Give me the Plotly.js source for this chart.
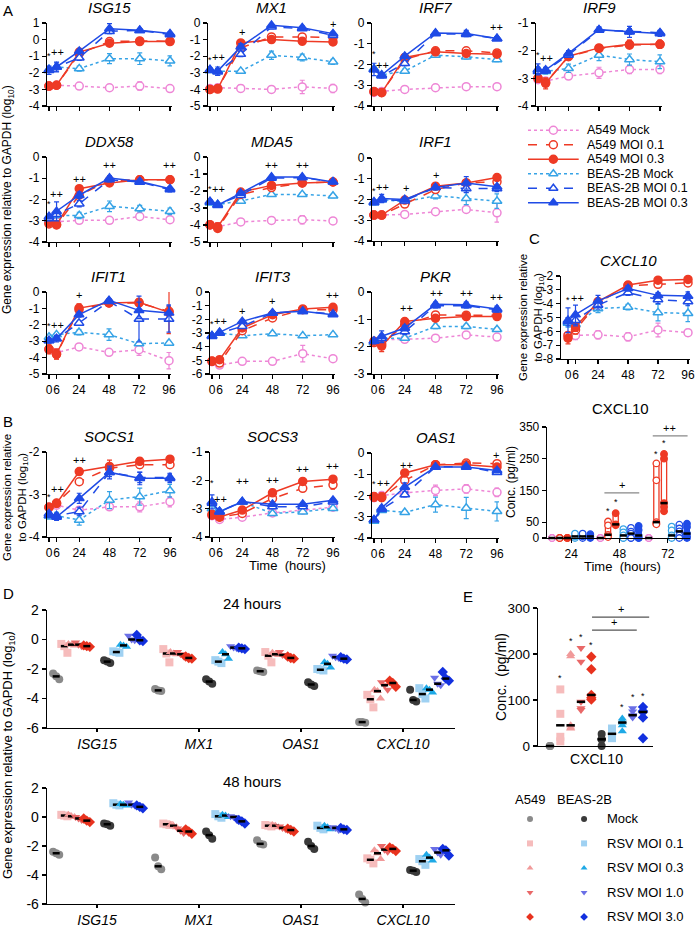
<!DOCTYPE html>
<html><head><meta charset="utf-8">
<script src="https://cdn.plot.ly/plotly-3.0.1.min.js"></script>
<style>html,body{margin:0;padding:0;background:#fff}#chart{width:697px;height:928px}</style>
</head><body><div id="chart"></div>
<script>
// ---------------- DATA ----------------
const times = [0, 6, 24, 48, 72, 96];
const timeLabels = ['0', '6', '24', '48', '72', '96'];
const seriesNames = ['A549 Mock', 'A549 MOI 0.1', 'A549 MOI 0.3', 'BEAS-2B Mock', 'BEAS-2B MOI 0.1', 'BEAS-2B MOI 0.3'];

// rows: A549 Mock, A549 MOI0.1, A549 MOI0.3, BEAS Mock, BEAS MOI0.1, BEAS MOI0.3 ; cols: times
const ISG15 = [[-2.8,-2.75,-2.8,-2.9,-2.8,-2.95],[-2.8,-2.75,-0.85,-0.12,-0.08,-0.1],[-2.8,-2.75,-0.75,-0.22,-0.12,-0.12],[-1.8,-1.65,-1.75,-1.15,-1.15,-1.28],[-1.8,-1.65,-1.1,0.5,0.55,0.3],[-1.85,-1.65,-0.7,0.66,0.56,0.36]];
const ISG15_err = [[0,0,0.1,0.1,0.25,0.1],[0,0,0.08,0.1,0.1,0.1],[0.05,0.05,0.1,0.1,0.15,0.1],[0.1,0.1,0.15,0.3,0.35,0.3],[0.15,0.25,0.15,0.1,0.1,0.1],[0.25,0.3,0.1,0.3,0.1,0.1]];
const MX1 = [[-3.95,-3.9,-3.94,-4.0,-3.85,-3.94],[-4.0,-3.95,-1.5,-0.84,-0.84,-0.88],[-4.0,-3.98,-1.2,-1.0,-1.1,-1.14],[-2.85,-2.9,-2.9,-1.94,-2.08,-2.34],[-2.85,-2.95,-1.88,-0.24,-0.34,-0.74],[-2.8,-2.9,-1.44,-0.14,-0.28,-0.64]];
const MX1_err = [[0.1,0.1,0.2,0.1,0.4,0.25],[0,0,0.1,0.1,0.15,0.1],[0.05,0.1,0.1,0.15,0.2,0.15],[0.1,0.15,0.1,0.25,0.2,0.15],[0.1,0.2,0.15,0.1,0.1,0.1],[0.1,0.25,0.2,0.1,0.1,0.1]];
const IRF7 = [[-3.35,-3.3,-3.2,-3.12,-3.07,-3.07],[-3.3,-3.35,-1.75,-1.34,-1.34,-1.44],[-3.31,-3.36,-1.66,-1.39,-1.47,-1.5],[-2.2,-2.5,-2.32,-1.55,-1.63,-1.76],[-2.25,-2.55,-1.95,-0.51,-0.55,-0.75],[-2.24,-2.51,-1.6,-0.48,-0.51,-0.75]];
const IRF7_err = [[0,0,0.05,0.05,0.05,0.05],[0.05,0.05,0.1,0.08,0.08,0.08],[0.05,0.05,0.1,0.08,0.1,0.1],[0.1,0.1,0.1,0.08,0.1,0.1],[0.1,0.1,0.1,0.08,0.1,0.08],[0.3,0.1,0.1,0.08,0.15,0.08]];
const IRF9 = [[-3.05,-3.1,-2.92,-2.8,-2.68,-2.68],[-3.0,-3.15,-2.22,-1.92,-1.8,-1.77],[-3.0,-3.18,-2.2,-1.9,-1.77,-1.77],[-2.7,-2.75,-2.64,-2.16,-2.32,-2.4],[-2.75,-2.72,-2.16,-1.26,-1.3,-1.35],[-2.68,-2.7,-2.1,-1.24,-1.32,-1.38]];
const IRF9_err = [[0.1,0.1,0.1,0.2,0.15,0.15],[0.1,0.1,0.08,0.08,0.1,0.1],[0.15,0.2,0.1,0.1,0.15,0.15],[0.1,0.1,0.15,0.2,0.2,0.25],[0.1,0.1,0.08,0.08,0.1,0.08],[0.2,0.1,0.1,0.1,0.2,0.1]];
const DDX58 = [[-3.1,-3.05,-2.98,-2.98,-2.8,-2.95],[-3.15,-3.2,-1.8,-1.1,-1.07,-1.07],[-3.1,-3.18,-1.49,-1.22,-1.07,-1.07],[-2.9,-2.75,-2.75,-2.32,-2.43,-2.56],[-2.9,-2.7,-2.2,-1.07,-1.18,-1.54],[-2.8,-2.56,-1.8,-0.99,-1.15,-1.49]];
const DDX58_err = [[0.1,0.1,0.1,0.1,0.1,0.1],[0.1,0.1,0.1,0.1,0.08,0.08],[0.1,0.15,0.1,0.1,0.1,0.1],[0.1,0.1,0.15,0.25,0.15,0.15],[0.1,0.1,0.15,0.1,0.1,0.1],[0.1,0.45,0.15,0.1,0.1,0.1]];
const MDA5 = [[-4.0,-4.1,-3.82,-3.73,-3.69,-3.76],[-4.0,-4.2,-2.2,-1.8,-1.53,-1.47],[-3.98,-4.12,-2.06,-1.67,-1.53,-1.47],[-2.7,-2.8,-2.59,-2.2,-2.2,-2.29],[-2.65,-2.8,-2.25,-1.24,-1.22,-1.45],[-2.61,-2.84,-2.12,-1.18,-1.18,-1.47]];
const MDA5_err = [[0.05,0.1,0.15,0.1,0.25,0.1],[0.05,0.1,0.1,0.1,0.1,0.1],[0.05,0.25,0.1,0.1,0.1,0.1],[0.1,0.1,0.1,0.1,0.1,0.1],[0.1,0.1,0.1,0.08,0.08,0.08],[0.1,0.1,0.1,0.08,0.08,0.08]];
const IRF1 = [[-2.75,-2.75,-2.72,-2.59,-2.48,-2.64],[-2.75,-2.75,-2.22,-1.52,-1.2,-1.15],[-2.75,-2.75,-2.03,-1.36,-1.2,-0.94],[-2.15,-2.0,-2.11,-1.82,-1.95,-2.08],[-2.15,-2.0,-2.06,-1.42,-1.47,-1.47],[-2.11,-1.95,-2.0,-1.42,-1.2,-1.39]];
const IRF1_err = [[0,0,0.1,0.1,0.1,0.45],[0.05,0.05,0.1,0.1,0.1,0.1],[0.05,0.05,0.1,0.1,0.15,0.15],[0.1,0.1,0.1,0.15,0.3,0.35],[0.1,0.1,0.1,0.1,0.2,0.15],[0.1,0.2,0.1,0.1,0.3,0.1]];
const IFIT1 = [[-3.5,-3.7,-3.35,-3.68,-3.52,-4.19],[-3.5,-3.8,-1.08,-0.67,-0.67,-1.18],[-3.48,-3.78,-0.98,-0.67,-0.63,-1.24],[-2.75,-2.6,-2.46,-2.6,-3.15,-3.11],[-2.95,-2.85,-1.89,-0.57,-1.65,-1.65],[-2.97,-2.85,-1.38,-0.51,-1.12,-1.28]];
const IFIT1_err = [[0.2,0.2,0.2,0.1,0.35,0.5],[0.2,0.3,0.2,0.15,0.2,0.3],[0.3,0.3,0.25,0.15,0.2,1.3],[0.15,0.1,0.15,0.35,0.1,0.1],[0.1,0.1,0.1,0.1,1.4,0.8],[0.15,0.2,0.15,0.1,0.5,0.5]];
const IFIT3 = [[-5.1,-5.35,-5.07,-5.07,-4.51,-4.88],[-5.05,-5.2,-2.83,-1.9,-1.29,-1.29],[-5.07,-4.95,-2.63,-1.66,-1.24,-1.12],[-3.2,-3.0,-3.2,-3.05,-3.2,-3.12],[-3.2,-3.0,-2.51,-1.54,-1.41,-1.61],[-3.24,-2.95,-2.15,-1.54,-1.41,-1.66]];
const IFIT3_err = [[0.05,0.1,0.1,0.1,0.6,0.1],[0.05,0.1,0.1,0.1,0.1,0.1],[0.05,0.15,0.1,0.1,0.1,0.1],[0.08,0.08,0.08,0.08,0.08,0.1],[0.08,0.08,0.1,0.08,0.08,0.08],[0.08,0.08,0.1,0.08,0.08,0.08]];
const PKR = [[-1.85,-1.75,-1.73,-1.69,-1.57,-1.65],[-1.85,-1.9,-1.2,-0.84,-0.85,-0.85],[-1.8,-1.98,-1.08,-0.96,-0.9,-0.9],[-1.85,-1.7,-1.69,-1.26,-1.26,-1.37],[-1.8,-1.7,-1.45,-0.5,-0.5,-0.65],[-1.8,-1.62,-1.32,-0.45,-0.47,-0.62]];
const PKR_err = [[0.05,0.05,0.05,0.05,0.1,0.08],[0.05,0.1,0.08,0.08,0.08,0.08],[0.05,0.2,0.08,0.1,0.1,0.08],[0.05,0.08,0.05,0.08,0.08,0.05],[0.08,0.15,0.1,0.08,0.08,0.08],[0.1,0.2,0.1,0.08,0.1,0.1]];
const CXCL10 = [[-6.3,-6.3,-6.25,-6.4,-5.9,-6.1],[-6.3,-5.9,-3.95,-2.7,-2.6,-2.5],[-6.5,-5.7,-3.85,-2.65,-2.3,-2.25],[-5.4,-5.5,-4.35,-4.25,-4.65,-4.7],[-5.3,-5.2,-4.1,-3.2,-3.7,-3.85],[-5.2,-4.8,-3.8,-2.9,-3.4,-3.45]];
const CXCL10_err = [[0.2,0.3,0.3,0.3,0.5,0.25],[0.2,0.3,0.2,0.1,0.1,0.1],[0.4,0.3,0.2,0.1,0.1,0.1],[0.3,0.3,0.3,0.2,0.6,0.6],[0.3,0.4,0.3,0.2,0.3,0.3],[0.9,0.7,0.4,0.2,0.2,0.3]];
const SOCS1 = [[-3.3,-3.25,-3.37,-3.29,-3.29,-3.17],[-3.3,-3.2,-2.7,-2.38,-2.3,-2.3],[-3.3,-3.21,-2.46,-2.34,-2.22,-2.17],[-3.5,-3.5,-3.6,-3.13,-3.05,-2.91],[-3.45,-3.5,-3.4,-2.48,-2.6,-2.6],[-3.49,-3.53,-3.09,-2.48,-2.62,-2.62]];
const SOCS1_err = [[0.05,0.05,0.05,0.08,0.12,0.12],[0.05,0.05,0.05,0.1,0.08,0.08],[0.05,0.08,0.05,0.15,0.08,0.08],[0.08,0.08,0.12,0.2,0.2,0.15],[0.05,0.05,0.1,0.1,0.12,0.1],[0.05,0.08,0.12,0.15,0.15,0.1]];
const SOCS3 = [[-3.25,-3.38,-3.3,-3.15,-3.05,-2.95],[-3.2,-3.3,-3.17,-2.64,-2.28,-2.16],[-3.23,-3.29,-3.05,-2.44,-2.04,-1.96],[-3.0,-3.1,-2.76,-3.17,-3.11,-2.99],[-2.8,-3.1,-2.75,-2.93,-2.93,-2.76],[-2.76,-3.11,-2.76,-2.84,-2.84,-2.7]];
const SOCS3_err = [[0.05,0.05,0.05,0.05,0.05,0.05],[0.05,0.05,0.05,0.1,0.1,0.15],[0.05,0.05,0.05,0.1,0.08,0.08],[0.05,0.05,0.05,0.05,0.05,0.05],[0.05,0.05,0.05,0.05,0.05,0.05],[0.25,0.05,0.05,0.05,0.05,0.05]];
const OAS1 = [[-2.1,-2.0,-1.88,-1.76,-1.69,-1.85],[-2.05,-2.1,-1.29,-0.55,-0.47,-0.5],[-2.07,-2.07,-0.94,-0.55,-0.55,-0.66],[-3.2,-2.7,-2.79,-2.43,-2.59,-2.75],[-3.15,-2.65,-1.96,-0.66,-0.63,-0.91],[-3.14,-2.59,-1.6,-0.66,-0.66,-0.82]];
const OAS1_err = [[0.05,0.05,0.1,0.25,0.2,0.2],[0.1,0.1,0.1,0.05,0.05,0.1],[0.2,0.2,0.1,0.05,0.05,0.1],[0.05,0.05,0.08,0.35,0.5,0.45],[0.05,0.1,0.1,0.05,0.05,0.1],[0.05,0.1,0.2,0.05,0.05,0.1]];

// significance marks [time, value, text]
const ISG15_sig = [[0,-1.0,'*'],[7,-0.74,'++'],[48,1.36,'++'],[72,1.36,'++'],[96,1.1,'++']];
const MX1_sig = [[0,-2.2,'*'],[7,-2.04,'++'],[25,-0.54,'+'],[48,0.46,'++'],[72,0.46,'++'],[96,-0.04,'+']];
const IRF7_sig = [[0,-1.5,'*'],[6.5,-2.03,'++'],[48,0.05,'++'],[72,0.05,'++'],[96,-0.19,'++']];
const IRF9_sig = [[0,-2.15,'*'],[7,-2.28,'++'],[48,-0.84,'++'],[72,-0.84,'++'],[96,-0.95,'++']];
const DDX58_sig = [[0,-2.2,'*'],[6,-1.73,'++'],[24,-1.02,'++'],[48,-0.39,'++'],[96,-0.39,'++']];
const MDA5_sig = [[0,-1.9,'*'],[6.5,-1.86,'++'],[48,-0.49,'++'],[72,-0.49,'++']];
const IRF1_sig = [[0,-1.6,'*'],[6.5,-1.39,'++'],[24.8,-1.47,'+'],[48.4,-0.83,'+']];
const IFIT1_sig = [[0,-2.1,'*'],[7,-2.0,'++'],[24,-0.16,'+']];
const IFIT3_sig = [[0,-2.35,'*'],[7,-2.1,'++'],[24,-1.41,'+'],[48,-0.68,'+'],[96,-0.2,'++']];
const PKR_sig = [[25,-0.59,'++'],[49,-0.04,'++'],[72,-0.04,'++'],[96,-0.17,'++']];
const CXCL10_sig = [[0,-3.7,'*'],[7.5,-3.6,'++'],[72,-1.57,'++'],[96,-1.57,'++']];
const SOCS1_sig = [[0,-3.05,'*'],[6.4,-2.88,'++'],[24,-2.18,'++'],[48,-1.98,'+'],[72,-1.75,'++'],[96,-1.75,'++']];
const SOCS3_sig = [[0,-2.1,'*'],[6.6,-2.66,'++'],[24,-2.02,'++'],[48,-1.98,'++'],[72,-1.6,'++'],[96,-1.51,'++']];
const OAS1_sig = [[0,-1.45,'*'],[7.5,-1.4,'++'],[25,-0.57,'++'],[95,-0.1,'+']];

// CXCL10 protein (pg/ml), per series (same order as seriesNames), replicates
const concTimes = [24, 48, 72];
const conc24 = [[0,0,0],[0,0,0],[0,0,0],[0,5,14],[0,5,14],[0,5,12]];
const conc48 = [[0,0,0],[52,40,10,5,3],[78,43,40],[28,18,8,0,0],[32,20,14,0,0],[38,25,8,0,0]];
const conc72 = [[0,0,0],[235,182,50,45,43],[265,250,110,98,84],[36,24,8,2,0],[42,30,21,8,0],[45,35,14,5,0]];
const concStars = [[48,1,85],[48,2,113],[72,1,265],[72,2,300]];
const concPlus = [[48,142,'+'],[72,322,'++']];

// Panel D: replicate values; conditions A549 Mock..MOI3.0, BEAS-2B Mock..MOI3.0
const dGenes = ['ISG15', 'MX1', 'OAS1', 'CXCL10'];
const dCondNames = ['Mock', 'RSV MOI 0.1', 'RSV MOI 0.3', 'RSV MOI 1.0', 'RSV MOI 3.0'];
const D24_ISG15 = [[-2.3,-2.5,-2.7],[-0.3,-0.45,-0.9],[-0.3,-0.35,-0.4],[-0.2,-0.35,-0.45],[-0.4,-0.45,-0.5],[-1.4,-1.5,-1.6],[-0.8,-0.85,-0.9],[-0.35,-0.4,-0.5],[0.25,0.0,-0.05],[0.3,-0.05,-0.1]];
const D24_MX1 = [[-3.35,-3.45,-3.5],[-0.65,-0.95,-1.55],[-0.85,-0.95,-1.0],[-0.85,-1.0,-1.15],[-1.15,-1.25,-1.3],[-2.7,-2.85,-3.0],[-1.4,-1.5,-1.6],[-0.85,-1.0,-1.3],[-0.45,-0.55,-0.6],[-0.55,-0.6,-0.65]];
const D24_OAS1 = [[-2.1,-2.15,-2.2],[-0.85,-1.1,-1.55],[-0.9,-1.0,-1.05],[-0.85,-1.05,-1.1],[-1.15,-1.25,-1.3],[-2.9,-3.05,-3.15],[-2.0,-2.05,-2.1],[-1.55,-1.65,-1.9],[-1.1,-1.2,-1.25],[-1.2,-1.3,-1.35]];
const D24_CXCL10 = [[-5.6,-5.6,-5.65],[-3.75,-4.05,-4.6],[-3.4,-3.5,-4.0],[-2.9,-3.1,-3.4],[-2.8,-2.95,-3.2],[-3.4,-4.1,-4.2],[-3.3,-3.7,-4.0],[-3.3,-3.4,-3.6],[-2.6,-3.0,-3.1],[-2.2,-2.65,-2.8]];
const D48_ISG15 = [[-2.4,-2.5,-2.6],[0.15,0.1,0.05],[0.15,0.05,0.0],[0.0,-0.1,-0.2],[-0.1,-0.25,-0.35],[-0.45,-0.5,-0.6],[0.95,0.85,0.8],[0.9,0.85,0.8],[1.0,0.85,0.8],[0.8,0.7,0.6]];
const D48_MX1 = [[-2.8,-3.4,-3.6],[-0.45,-0.5,-0.55],[-0.55,-0.6,-0.7],[-0.8,-0.95,-1.1],[-0.85,-1.0,-1.15],[-1.0,-1.25,-1.5],[0.2,0.05,-0.05],[0.15,0.1,0.0],[0.05,0.0,-0.2],[-0.2,-0.3,-0.45]];
const D48_OAS1 = [[-1.6,-1.85,-1.9],[-0.55,-0.6,-0.65],[-0.55,-0.6,-0.7],[-0.65,-0.75,-0.85],[-0.8,-0.9,-1.0],[-1.7,-2.0,-2.2],[-0.6,-0.75,-0.85],[-0.6,-0.7,-0.85],[-0.7,-0.75,-0.9],[-0.75,-0.85,-0.9]];
const D48_CXCL10 = [[-5.35,-5.65,-5.9],[-2.85,-2.95,-3.2],[-2.3,-2.5,-2.9],[-2.0,-2.25,-2.4],[-2.1,-2.2,-2.35],[-3.65,-3.7,-3.8],[-2.9,-3.05,-3.3],[-2.6,-2.8,-3.0],[-2.2,-2.45,-2.6],[-2.2,-2.3,-2.65]];

// Panel E: CXCL10 protein (pg/ml), conditions A549 Mock..MOI3.0, BEAS-2B Mock..MOI3.0
const E_vals = [[0,0,0],[123,70,20,10],[200,195,45,40,38],[213,183,96,82,78],[194,167,111,105,101],[26,15,14,0],[38,30,23,17],[60,55,51,45,32],[82,75,67,64,62],[85,76,74,62,17]];
const E_stars = [[1,147],[2,229],[3,236],[4,220],[7,85],[8,107],[9,108]];
const E_plus = [[4.07,8.4,252,'+'],[4.07,9.6,280,'+']];

// ---------------- STYLES / LAYOUT ----------------
const FONT = 'Liberation Sans, Arial, Helvetica, sans-serif';
const W = 697, H = 928;
const sColor = ['#ee86d6', '#ee3a25', '#ee3a25', '#36a3e6', '#1f4be6', '#1f4be6'];
const sDash = ['dot', 'dash', 'solid', 'dot', 'dash', 'solid'];
const sSym = ['circle', 'circle', 'circle', 'triangle-up', 'triangle-up', 'triangle-up'];
const sFilled = [false, false, true, false, false, true];
const drawOrder = [0, 3, 1, 2, 4, 5];
const dColor = ['#8a8a8a', '#f6bcbc', '#f19a9a', '#e96868', '#e8321e', '#3a3a3a', '#9fd1f2', '#1ea9e6', '#6a6fe6', '#1230df'];
const dSym = ['circle', 'square', 'triangle-up', 'triangle-down', 'diamond', 'circle', 'square', 'triangle-up', 'triangle-down', 'diamond'];
const dOffset = [-0.40, -0.32, -0.25, -0.18, -0.10, 0.10, 0.19, 0.26, 0.34, 0.42];
const dJit = [-0.03, 0, 0.03, -0.015, 0.015];

const data = [];
const annotations = [];
const layout = {
  width: W, height: H, margin: {l: 0, r: 0, t: 0, b: 0},
  paper_bgcolor: '#fff', plot_bgcolor: 'rgba(0,0,0,0)', showlegend: false,
  font: {family: FONT, size: 12, color: '#000'}, barmode: 'overlay', bargap: 0
};
let axN = 0;
function newAxes(xa, ya) {
  axN++;
  const s = axN === 1 ? '' : String(axN);
  xa.anchor = 'y' + s; ya.anchor = 'x' + s;
  layout['xaxis' + s] = xa; layout['yaxis' + s] = ya;
  return {x: 'x' + s, y: 'y' + s};
}
const pxX = p => p / W;
const pxY = p => 1 - p / H;
const axBase = () => ({showline: true, linecolor: '#000', linewidth: 1.3, ticks: 'outside', ticklen: 4,
  tickwidth: 1.2, tickcolor: '#000', showgrid: false, zeroline: false, fixedrange: true,
  tickfont: {family: FONT, size: 12, color: '#000'}});
function paperNote(text, x, y, opts) {
  annotations.push(Object.assign({text, x: pxX(x), y: pxY(y), xref: 'paper', yref: 'paper',
    showarrow: false, xanchor: 'center', yanchor: 'middle', font: {family: FONT, size: 12, color: '#000'}}, opts || {}));
}
function dataNote(text, x, y, ax, size, opts) {
  annotations.push(Object.assign({text, x, y, xref: ax.x, yref: ax.y, showarrow: false,
    xanchor: 'center', yanchor: 'middle', font: {family: FONT, size: size, color: '#000'}}, opts || {}));
}
const median = a => { const s = [...a].sort((p, q) => p - q); const n = s.length; return n % 2 ? s[(n - 1) / 2] : (s[n / 2 - 1] + s[n / 2]) / 2; };
const range = (a, b) => { const r = []; for (let v = a; v <= b; v++) r.push(v); return r; };

// ---- line panels (A, B, C) ----
const linePanels = [
  {name: 'ISG15', vals: ISG15, err: ISG15_err, sig: ISG15_sig, px: [49, 170, 23, 106], yr: [-4, 1], lab: false},
  {name: 'MX1', vals: MX1, err: MX1_err, sig: MX1_sig, px: [210, 333, 23, 106], yr: [-5, 0], lab: false},
  {name: 'IRF7', vals: IRF7, err: IRF7_err, sig: IRF7_sig, px: [374, 497, 23, 106], yr: [-4, 0], lab: false},
  {name: 'IRF9', vals: IRF9, err: IRF9_err, sig: IRF9_sig, px: [538, 660, 23, 106], yr: [-4, -1], lab: false},
  {name: 'DDX58', vals: DDX58, err: DDX58_err, sig: DDX58_sig, px: [49, 170, 157, 242], yr: [-4, 0], lab: false},
  {name: 'MDA5', vals: MDA5, err: MDA5_err, sig: MDA5_sig, px: [210, 333, 157, 242], yr: [-5, 0], lab: false},
  {name: 'IRF1', vals: IRF1, err: IRF1_err, sig: IRF1_sig, px: [374, 497, 158, 241], yr: [-4, 0], lab: false},
  {name: 'IFIT1', vals: IFIT1, err: IFIT1_err, sig: IFIT1_sig, px: [49, 169, 292, 374], yr: [-5, 0], lab: true},
  {name: 'IFIT3', vals: IFIT3, err: IFIT3_err, sig: IFIT3_sig, px: [212, 333, 292, 374], yr: [-6, 0], lab: true},
  {name: 'PKR', vals: PKR, err: PKR_err, sig: PKR_sig, px: [374, 497, 292, 374], yr: [-3, 0], lab: true},
  {name: 'CXCL10', vals: CXCL10, err: CXCL10_err, sig: CXCL10_sig, px: [568, 688, 276, 359], yr: [-8, -2], lab: true, x0: -5.6},
  {name: 'SOCS1', vals: SOCS1, err: SOCS1_err, sig: SOCS1_sig, px: [49, 170, 452, 537], yr: [-4, -2], lab: true},
  {name: 'SOCS3', vals: SOCS3, err: SOCS3_err, sig: SOCS3_sig, px: [212, 333, 452, 537], yr: [-4, -1], lab: true},
  {name: 'OAS1', vals: OAS1, err: OAS1_err, sig: OAS1_sig, px: [374, 497, 453, 538], yr: [-4, 0], lab: true}
];
linePanels.forEach(p => {
  const [L0, R0, top, bot] = p.px;
  const k = (R0 - L0) / 96;
  const xr = [p.x0 !== undefined ? p.x0 : -1.5, 97.5];
  const xa = Object.assign(axBase(), {domain: [pxX(L0 + xr[0] * k), pxX(L0 + xr[1] * k)], range: xr,
    tickmode: 'array', tickvals: times, ticktext: p.lab ? timeLabels : times.map(() => ' '), tickangle: 0});
  const yv = range(p.yr[0], p.yr[1]);
  const ya = Object.assign(axBase(), {domain: [pxY(bot), pxY(top)], range: p.yr,
    tickmode: 'array', tickvals: yv, ticktext: yv.map(v => String(v))});
  const ax = newAxes(xa, ya);
  drawOrder.forEach(i => {
    data.push({type: 'scatter', mode: 'lines+markers', x: times, y: p.vals[i], xaxis: ax.x, yaxis: ax.y,
      cliponaxis: false, hoverinfo: 'skip',
      line: {color: sColor[i], width: 1.5, dash: sDash[i]},
      marker: {symbol: sSym[i], size: sSym[i] === 'circle' ? 8 : 8.5, color: sFilled[i] ? sColor[i] : '#fff',
        line: {color: sColor[i], width: 1.5}},
      error_y: {type: 'data', array: p.err[i], visible: true, color: sColor[i], thickness: 1.2, width: 2.5}});
  });
  paperNote('<i>' + p.name + '</i>', (L0 + R0) / 2, top - 16, {font: {family: FONT, size: 15, color: '#000'}});
  p.sig.forEach(s => dataNote(s[2], s[0], s[1], ax, s[2] === '*' ? 9 : 11));
});

// ---- B right: CXCL10 protein ----
(function () {
  const concOff = [-9.5, -5.7, -1.9, 1.9, 5.7, 9.5];
  const xa = Object.assign(axBase(), {domain: [pxX(547), pxX(690)], range: [12, 83], tickmode: 'array',
    tickvals: concTimes, ticktext: concTimes.map(String)});
  const yv = [0, 50, 150, 250, 350];
  const ya = Object.assign(axBase(), {domain: [pxY(538), pxY(427)], range: [0, 350], tickmode: 'array',
    tickvals: yv, ticktext: yv.map(String)});
  const ax = newAxes(xa, ya);
  [conc24, conc48, conc72].forEach((grp, ti) => {
    grp.forEach((vals, i) => {
      const x = concTimes[ti] + concOff[i];
      const mn = Math.min(...vals), mx = Math.max(...vals);
      if (mx - mn > 6) {
        data.push({type: 'bar', x: [x], y: [mx - mn], base: [mn], width: 2.6, xaxis: ax.x, yaxis: ax.y,
          marker: {color: 'rgba(255,255,255,0)', line: {color: sColor[i], width: 1.3}}, hoverinfo: 'skip'});
      }
      data.push({type: 'scatter', mode: 'markers', x: vals.map(() => x), y: vals, xaxis: ax.x, yaxis: ax.y,
        cliponaxis: false, hoverinfo: 'skip',
        marker: {symbol: 'circle', size: 6.5, color: sFilled[i] ? sColor[i] : '#fff', line: {color: sColor[i], width: 1.3}}});
      data.push({type: 'scatter', mode: 'markers', x: [x], y: [median(vals)], xaxis: ax.x, yaxis: ax.y,
        cliponaxis: false, hoverinfo: 'skip', marker: {symbol: 'line-ew', size: 5, line: {color: '#000', width: 2.5}}});
    });
  });
  concStars.forEach(s => dataNote('*', s[0] + concOff[s[1]], s[2], ax, 9));
  concPlus.forEach(s => {
    data.push({type: 'scatter', mode: 'lines', x: [s[0] - 7.5, s[0] + 9.8], y: [s[1], s[1]], xaxis: ax.x, yaxis: ax.y,
      cliponaxis: false, hoverinfo: 'skip', line: {color: '#888', width: 1.2}});
    dataNote(s[2], s[0] + 1, s[1], ax, 11, {yshift: 8});
  });
  paperNote('CXCL10', 620, 408, {font: {family: FONT, size: 15}});
  paperNote('Conc. (pg/ml)', 511, 482, {textangle: -90, font: {family: FONT, size: 12}});
  paperNote('Time  (hours)', 622, 566, {font: {family: FONT, size: 13}});
})();

// ---- Panel D ----
function drawD(sets, top, bot, title, titleY) {
  const xa = Object.assign(axBase(), {domain: [pxX(47), pxX(455)], range: [-0.49, 3.51], tickmode: 'array',
    tickvals: [0, 1, 2, 3], ticktext: dGenes.map(g => '<i>' + g + '</i>'), ticklen: 3,
    tickfont: {family: FONT, size: 14, color: '#000'}});
  const yv = [-6, -4, -2, 0, 2];
  const ya = Object.assign(axBase(), {domain: [pxY(bot), pxY(top)], range: [-6, 2], tickmode: 'array',
    tickvals: yv, ticktext: yv.map(String), tickfont: {family: FONT, size: 14, color: '#000'}});
  const ax = newAxes(xa, ya);
  for (let c = 0; c < 10; c++) {
    const xs = [], ys = [], mx = [], my = [];
    sets.forEach((g, gi) => {
      g[c].forEach((v, r) => { xs.push(gi + dOffset[c] + dJit[r]); ys.push(v); });
      mx.push(gi + dOffset[c]); my.push(median(g[c]));
    });
    data.push({type: 'scatter', mode: 'markers', x: xs, y: ys, xaxis: ax.x, yaxis: ax.y, cliponaxis: false,
      hoverinfo: 'skip', marker: {symbol: dSym[c], size: 8, color: dColor[c], line: {width: 0}}});
    data.push({type: 'scatter', mode: 'markers', x: mx, y: my, xaxis: ax.x, yaxis: ax.y, cliponaxis: false,
      hoverinfo: 'skip', marker: {symbol: 'line-ew', size: 5, line: {color: '#000', width: 2.5}}});
  }
  paperNote(title, 252, titleY, {font: {family: FONT, size: 15}});
}
drawD([D24_ISG15, D24_MX1, D24_OAS1, D24_CXCL10], 610, 728, '24 hours', 603);
drawD([D48_ISG15, D48_MX1, D48_OAS1, D48_CXCL10], 788, 904, '48 hours', 781);

// ---- Panel E ----
(function () {
  const xa = Object.assign(axBase(), {domain: [pxX(538), pxX(653)], range: [-1.16, 9.97], tickmode: 'array',
    tickvals: [4.5], ticktext: ['CXCL10'], ticks: '', tickfont: {family: FONT, size: 14, color: '#000'}});
  const yv = [0, 100, 200, 300];
  const ya = Object.assign(axBase(), {domain: [pxY(746), pxY(608)], range: [0, 300], tickmode: 'array',
    tickvals: yv, ticktext: yv.map(String), tickfont: {family: FONT, size: 13.5, color: '#000'}});
  const ax = newAxes(xa, ya);
  E_vals.forEach((vals, c) => {
    data.push({type: 'scatter', mode: 'markers', x: vals.map(() => c), y: vals, xaxis: ax.x, yaxis: ax.y,
      cliponaxis: false, hoverinfo: 'skip', marker: {symbol: dSym[c], size: 8, color: dColor[c], line: {width: 0}}});
    data.push({type: 'scatter', mode: 'markers', x: [c], y: [median(vals)], xaxis: ax.x, yaxis: ax.y,
      cliponaxis: false, hoverinfo: 'skip', marker: {symbol: 'line-ew', size: 6, line: {color: '#000', width: 2.5}}});
  });
  E_stars.forEach(s => dataNote('*', s[0], s[1], ax, 9));
  E_plus.forEach(s => {
    data.push({type: 'scatter', mode: 'lines', x: [s[0], s[1]], y: [s[2], s[2]], xaxis: ax.x, yaxis: ax.y,
      cliponaxis: false, hoverinfo: 'skip', line: {color: '#555', width: 1.2}});
    dataNote(s[3], (s[0] + s[1]) / 2, s[2], ax, 11, {yshift: 8});
  });
  paperNote('Conc.  (pg/ml)', 501, 677, {textangle: -90, font: {family: FONT, size: 14}});
})();

// ---- Legend A ----
(function () {
  const xa = {domain: [pxX(528), pxX(697)], range: [0, 1], visible: false, fixedrange: true};
  const ya = {domain: [pxY(210), pxY(123)], range: [5.5, -0.5], visible: false, fixedrange: true};
  const ax = newAxes(xa, ya);
  seriesNames.forEach((nm, i) => {
    data.push({type: 'scatter', mode: 'lines', x: [0, 0.3], y: [i, i], xaxis: ax.x, yaxis: ax.y, hoverinfo: 'skip',
      line: {color: sColor[i], width: 1.5, dash: sDash[i]}});
    data.push({type: 'scatter', mode: 'markers', x: [0.15], y: [i], xaxis: ax.x, yaxis: ax.y, hoverinfo: 'skip',
      cliponaxis: false, marker: {symbol: sSym[i], size: 8, color: sFilled[i] ? sColor[i] : '#fff', line: {color: sColor[i], width: 1.5}}});
    dataNote(nm, 0.34, i, ax, 12.5, {xanchor: 'left'});
  });
})();

// ---- Legend E ----
(function () {
  const xa = {domain: [pxX(515), pxX(697)], range: [-0.278, 3.09], visible: false, fixedrange: true};
  const ya = {domain: [pxY(925), pxY(790)], range: [4.33, -1.18], visible: false, fixedrange: true};
  const ax = newAxes(xa, ya);
  dataNote('A549', 0, -0.78, ax, 13);
  dataNote('BEAS-2B', 1, -0.78, ax, 13);
  dCondNames.forEach((nm, r) => {
    data.push({type: 'scatter', mode: 'markers', x: [0, 1], y: [r, r], xaxis: ax.x, yaxis: ax.y, hoverinfo: 'skip',
      cliponaxis: false, marker: {symbol: [dSym[r], dSym[r + 5]], size: 6, color: [dColor[r], dColor[r + 5]], line: {width: 0}}});
    dataNote(nm, 1.39, r, ax, 13, {xanchor: 'left'});
  });
})();

// ---- titles, panel letters ----
paperNote('Gene expression relative to GAPDH (log<sub>10</sub>)', 8, 200, {textangle: -90, font: {family: FONT, size: 12}});
paperNote('Gene expression relative<br>to GAPDH (log<sub>10</sub>)', 15, 498, {textangle: -90, font: {family: FONT, size: 11.5}});
paperNote('Gene expression relative<br>to GAPDH (log<sub>10</sub>)', 531, 318, {textangle: -90, font: {family: FONT, size: 11.5}});
paperNote('Gene expression relative to GAPDH (log<sub>10</sub>)', 8, 755, {textangle: -90, font: {family: FONT, size: 13}});
paperNote('Time  (hours)', 287, 565, {font: {family: FONT, size: 13}});
[['A', 8, 10], ['B', 8, 422], ['C', 534, 238], ['D', 8, 593], ['E', 468, 596]].forEach(l =>
  paperNote(l[0], l[1], l[2], {font: {family: FONT, size: 15}}));

layout.annotations = annotations;
Plotly.newPlot('chart', data, layout, {staticPlot: true, displayModeBar: false});
</script>
</body></html>
